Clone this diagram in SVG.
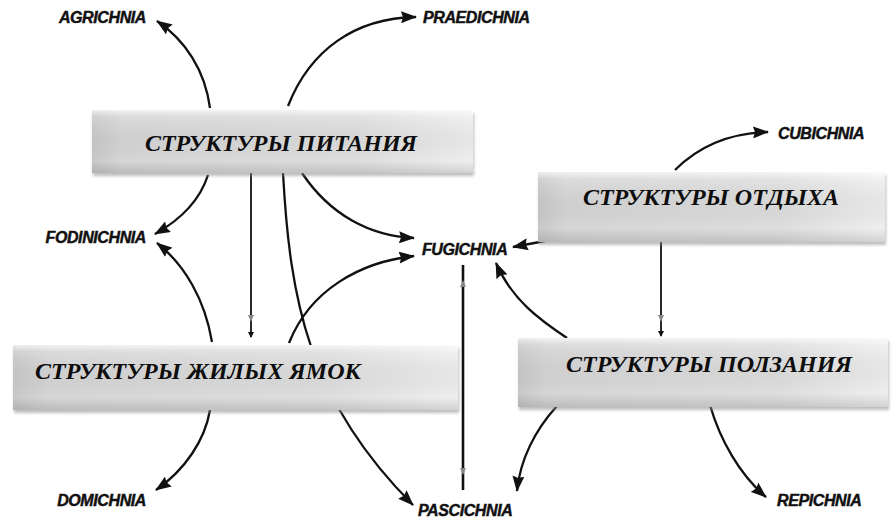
<svg xmlns="http://www.w3.org/2000/svg" width="892" height="520" viewBox="0 0 892 520">
<style>
.lbl{font-family:"Liberation Sans",Arial,sans-serif;font-weight:bold;font-style:italic;font-size:16px;letter-spacing:-0.4px;fill:#111;stroke:#111;stroke-width:0.45}
.nt{font-family:"Liberation Serif","Times New Roman",serif;font-weight:bold;font-style:italic;font-size:24px;fill:#0d0d0d}
.c{fill:none;stroke:#111;stroke-width:2.3}
.box{fill:url(#gh)}
.ov{fill:url(#gv)}
.sh{fill:#8a8a8a;opacity:.55;filter:url(#bl)}
.tip{fill:#888}
</style>
<defs>
<linearGradient id="gh" x1="0" y1="0" x2="1" y2="0">
<stop offset="0" stop-color="#c9c9c9"/>
<stop offset="0.08" stop-color="#d6d6d6"/>
<stop offset="0.7" stop-color="#dedede"/>
<stop offset="1" stop-color="#efefef"/>
</linearGradient>
<linearGradient id="gv" x1="0" y1="0" x2="0" y2="1">
<stop offset="0" stop-color="#fff" stop-opacity="0.7"/>
<stop offset="0.1" stop-color="#fff" stop-opacity="0.15"/>
<stop offset="0.8" stop-color="#000" stop-opacity="0"/>
<stop offset="1" stop-color="#000" stop-opacity="0.12"/>
</linearGradient>
<filter id="bl" x="-5%" y="-20%" width="110%" height="140%"><feGaussianBlur stdDeviation="1.5"/></filter>
<marker id="ar" markerUnits="userSpaceOnUse" markerWidth="16" markerHeight="12" refX="15" refY="6" orient="auto"><path d="M0,0 L16,6 L0,12 L2,6 z" fill="#111"/></marker>
<marker id="sm" markerUnits="userSpaceOnUse" markerWidth="6" markerHeight="6" refX="5" refY="3" orient="auto"><path d="M0,0 L6,3 L0,6 z" fill="#111"/></marker>
</defs>

<g id="connectors">
<path class="c" marker-end="url(#ar)" d="M210,108 C205,70 185,40 157,21"/>
<path class="c" marker-end="url(#ar)" d="M288,106 C310,50 355,18 416,17"/>
<path class="c" marker-end="url(#ar)" d="M675,170 C700,145 730,133 768,132"/>
<path class="c" marker-end="url(#ar)" d="M208,175 C200,200 180,220 155,234"/>
<path class="c" marker-end="url(#ar)" d="M212,342 C205,300 185,265 157,243"/>
<path class="c" style="stroke-width:1.8" marker-end="url(#sm)" d="M251,173 L251,337"/>
<path class="tip" d="M248,315 L254,315 L251,322 z"/>
<path class="c" marker-end="url(#ar)" d="M283,173 C290,300 308,400 413,505"/>
<path class="c" marker-end="url(#ar)" d="M289,343 C310,290 360,262 414,256"/>
<path class="c" marker-end="url(#ar)" d="M302,173 C330,215 370,236 414,238"/>
<path class="c" marker-end="url(#ar)" d="M545,241 L513,247"/>
<path class="c" style="stroke-width:1.8" marker-end="url(#sm)" d="M661,242 L661,336"/>
<path class="tip" d="M658,315 L664,315 L661,322 z"/>
<path class="c" marker-end="url(#ar)" d="M567,338 C540,320 512,300 496,263"/>
<path class="c" style="stroke-width:2.6" d="M463,265 L463,490"/>
<path class="tip" d="M460,287 L466,287 L463,280 z"/>
<path class="tip" d="M460,468 L466,468 L463,475 z"/>
<path class="c" marker-end="url(#ar)" d="M557,406 C535,430 520,460 517,491"/>
<path class="c" marker-end="url(#ar)" d="M710,405 C720,440 740,475 766,497"/>
<path class="c" marker-end="url(#ar)" d="M210,410 C205,440 185,470 156,490"/>
</g>

<g id="node-pitaniya">
<rect class="sh" x="93" y="113" width="381" height="63"/>
<rect class="box" x="92" y="110" width="381" height="63"/>
<rect class="ov" x="92" y="110" width="381" height="63"/>
<text class="nt" x="281" y="151" text-anchor="middle">СТРУКТУРЫ ПИТАНИЯ</text>
</g>
<g id="node-otdykha">
<rect class="sh" x="539" y="175" width="347" height="70"/>
<rect class="box" x="538" y="172" width="347" height="70"/>
<rect class="ov" x="538" y="172" width="347" height="70"/>
<text class="nt" x="711" y="205" text-anchor="middle">СТРУКТУРЫ ОТДЫХА</text>
</g>
<g id="node-zhilykh">
<rect class="sh" x="14" y="348" width="445" height="65"/>
<rect class="box" x="13" y="345" width="445" height="65"/>
<rect class="ov" x="13" y="345" width="445" height="65"/>
<text class="nt" x="35" y="379">СТРУКТУРЫ ЖИЛЫХ ЯМОК</text>
</g>
<g id="node-polzaniya">
<rect class="sh" x="519" y="341" width="370" height="69"/>
<rect class="box" x="518" y="338" width="370" height="69"/>
<rect class="ov" x="518" y="338" width="370" height="69"/>
<text class="nt" x="709" y="372" text-anchor="middle">СТРУКТУРЫ ПОЛЗАНИЯ</text>
</g>

<g id="labels">
<text class="lbl" x="146" y="23" text-anchor="end">AGRICHNIA</text>
<text class="lbl" x="423" y="23">PRAEDICHNIA</text>
<text class="lbl" x="778" y="139">CUBICHNIA</text>
<text class="lbl" x="146" y="243" text-anchor="end">FODINICHNIA</text>
<text class="lbl" x="422" y="255">FUGICHNIA</text>
<text class="lbl" x="418" y="516">PASCICHNIA</text>
<text class="lbl" x="146" y="506" text-anchor="end">DOMICHNIA</text>
<text class="lbl" x="777" y="506">REPICHNIA</text>
</g>
</svg>
